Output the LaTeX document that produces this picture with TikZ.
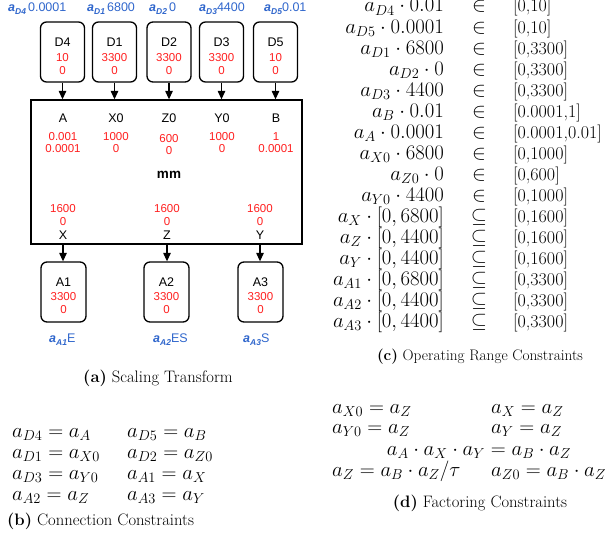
\documentclass[tikz,border=0pt]{standalone}
\usepackage{fontspec}
\usepackage{amsmath,amssymb}
\newfontfamily\diagfont{Liberation Sans}
\usetikzlibrary{arrows.meta,positioning}

\definecolor{sclblue}{HTML}{2F66CC}
\definecolor{rngred}{HTML}{FF1F1F}

% scale factor label: a_{sub} value
\newcommand\scal[2]{\textbf{\textit{a}}\raisebox{-3pt}{\fontsize{8.5}{9}\selectfont\textbf{\textit{#1}}}#2}
\newcommand\capt[2]{\textbf{(#1)} #2}

\tikzset{
  unitbox/.style={draw, rounded corners=6pt, line width=1.3pt, minimum width=44pt, minimum height=60pt},
  mmbox/.style={draw, line width=1.3pt, minimum width=271pt, minimum height=144pt},
  pname/.style={font=\diagfont\fontsize{12.5}{14}\selectfont, inner sep=0pt},
  rng/.style={font=\diagfont\fontsize{11.5}{13}\selectfont, text=rngred, inner sep=0pt},
  scl/.style={font=\diagfont\fontsize{12.5}{14}\selectfont, text=sclblue, inner sep=0pt, anchor=west},
  wire/.style={-{Triangle[width=7.5pt,length=8.5pt]}, line width=1.2pt},
  eqn/.style={font=\fontsize{19.5}{23}\selectfont, inner sep=0pt, text height=12pt, text depth=4pt},
  ival/.style={font=\fontsize{18}{21}\selectfont, inner sep=0pt, text height=12pt, text depth=4pt},
  capn/.style={font=\fontsize{16.6}{19}\selectfont, inner sep=0pt},
}

\begin{document}
\begin{tikzpicture}[x=1pt, y=-1pt]
        \useasboundingbox (0,0) rectangle (605,537);
        % Draw top units
        \foreach \n/\x/\hi in {D4/62.5/10, D1/114.5/3300, D2/169/3300, D3/221.5/3300, D5/275.5/10}
        {
          \node[unitbox] (\n) at (\x,52) {};
          \node[pname] (\n-t) at (\x,42) {\n};
          \node[rng] (\n-hi) at (\x,58) {\hi};
          \node[rng] (\n-lo) at (\x,71) {0};
        }
        % Draw scale labels on top
        \node[scl] (sD4) at (8,9) {\scal{D4}{\,0.0001}};
        \node[scl] (sD1) at (87,9) {\scal{D1}{\,6800}};
        \node[scl] (sD2) at (149,9) {\scal{D2}{\,0}};
        \node[scl] (sD3) at (199,9) {\scal{D3}{4400}};
        \node[scl] (sD5) at (264,9) {\scal{D5}{0.01}};
        % Draw mm
        \node[mmbox] (mm) at (166.5,172) {};
        \node[pname, font=\diagfont\bfseries\fontsize{13.5}{15}\selectfont] (mm-t) at (169,175) {mm};
        \foreach \n/\x/\hi/\lo/\dy in {A/63/0.001/0.0001/0, X0/116/1000/0/0, Z0/169/600/0/2, Y0/222/1000/0/0, B/276/1/0.0001/0}
        {
          \node[pname] (\n) at (\x,118) {\n};
          \node[rng] (\n-hi) at (\x,137+\dy) {\hi};
          \node[rng] (\n-lo) at (\x,149+\dy) {\lo};
        }
        \foreach \n/\x in {X/63, Z/167, Y/260}
        {
          \node[pname] (\n) at (\x,235) {\n};
          \node[rng] (\n-hi) at (\x,209) {1600};
          \node[rng] (\n-lo) at (\x,222) {0};
        }
        \foreach \n in {D4, D1, D2, D3, D5}
        \draw[wire] (\n) -- (\n |- mm.north);
        % Draw bottom units
        \foreach \n/\x/\sf/\lx in {A1/63.5/E/49, A2/166.5/ES/153, A3/260.5/S/243}
        {
          \node[unitbox, minimum width=45pt] (\n) at (\x,292) {};
          \node[pname] (\n-t) at (\x,282) {\n};
          \node[rng] (\n-hi) at (\x,297) {3300};
          \node[rng] (\n-lo) at (\x,310) {0};
          \node[scl] (s\n) at (\lx,340) {\scal{\n}{\sf}};
        }
        \draw[wire] (X |- mm.south) -- (X |- A1.north);
        \draw[wire] (Z |- mm.south) -- (Z |- A2.north);
        \draw[wire] (Y |- mm.south) -- (Y |- A3.north);
        \node[capn] (capa) at (158,378) {\capt{a}{Scaling Transform}};
        % Connection constraints
        \foreach \i/\lt/\rt/\y in {1/{a_{D4}=a_A}/{a_{D5}=a_B}/437,
                                   2/{a_{D1}=a_{X0}}/{a_{D2}=a_{Z0}}/458,
                                   3/{a_{D3}=a_{Y0}}/{a_{A1}=a_X}/479,
                                   4/{a_{A2}=a_Z}/{a_{A3}=a_Y}/500}
        {
          \node[eqn, anchor=base west] (cl\i) at (12,\y) {$\lt$};
          \node[eqn, anchor=base west] (cr\i) at (127,\y) {$\rt$};
        }
        \node[capn, anchor=west] (capb) at (7,521) {\capt{b}{Connection Constraints}};
        % Operating range constraints
        \foreach \i/\lt/\st/\rt in {1/{a_{D4}\cdot 0.01}/{\in}/{[0,10]},
                                    2/{a_{D5}\cdot 0.0001}/{\in}/{[0,10]},
                                    3/{a_{D1}\cdot 6800}/{\in}/{[0,3300]},
                                    4/{a_{D2}\cdot 0}/{\in}/{[0,3300]},
                                    5/{a_{D3}\cdot 4400}/{\in}/{[0,3300]},
                                    6/{a_{B}\cdot 0.01}/{\in}/{[0.0001,1]},
                                    7/{a_{A}\cdot 0.0001}/{\in}/{[0.0001,0.01]},
                                    8/{a_{X0}\cdot 6800}/{\in}/{[0,1000]},
                                    9/{a_{Z0}\cdot 0}/{\in}/{[0,600]},
                                    10/{a_{Y0}\cdot 4400}/{\in}/{[0,1000]},
                                    11/{a_{X}\cdot [0,6800]}/{\subseteq}/{[0,1600]},
                                    12/{a_{Z}\cdot [0,4400]}/{\subseteq}/{[0,1600]},
                                    13/{a_{Y}\cdot [0,4400]}/{\subseteq}/{[0,1600]},
                                    14/{a_{A1}\cdot [0,6800]}/{\subseteq}/{[0,3300]},
                                    15/{a_{A2}\cdot [0,4400]}/{\subseteq}/{[0,3300]},
                                    16/{a_{A3}\cdot [0,4400]}/{\subseteq}/{[0,3300]}}
        {
          \pgfmathsetmacro\yy{12+21.05*(\i-1)}
          \node[eqn, anchor=base east] (ol\i) at (444,\yy) {$\lt$};
          \node[eqn, anchor=base] (os\i) at (479,\yy) {$\st$};
          \node[ival, anchor=base west] (or\i) at (513,\yy) {\rt};
        }
        \node[capn, font=\fontsize{15.3}{18}\selectfont] (capc) at (480,357) {\capt{c}{Operating Range Constraints}};
        % Factoring constraints
        \node[eqn, anchor=base west] (f1) at (332,413) {$a_{X0}=a_Z$};
        \node[eqn, anchor=base west] (f2) at (491,413) {$a_X=a_Z$};
        \node[eqn, anchor=base west] (f3) at (332,433) {$a_{Y0}=a_Z$};
        \node[eqn, anchor=base west] (f4) at (491,433) {$a_Y=a_Z$};
        \node[eqn, anchor=base] (f5) at (479,455) {$a_A\cdot a_X\cdot a_Y=a_B\cdot a_Z$};
        \node[eqn, anchor=base west] (f6) at (332,476) {$a_Z=a_B\cdot a_Z/\tau$};
        \node[eqn, anchor=base west] (f7) at (491,476) {$a_{Z0}=a_B\cdot a_Z$};
        \node[capn] (capd) at (480,503) {\capt{d}{Factoring Constraints}};
\end{tikzpicture}
\end{document}
